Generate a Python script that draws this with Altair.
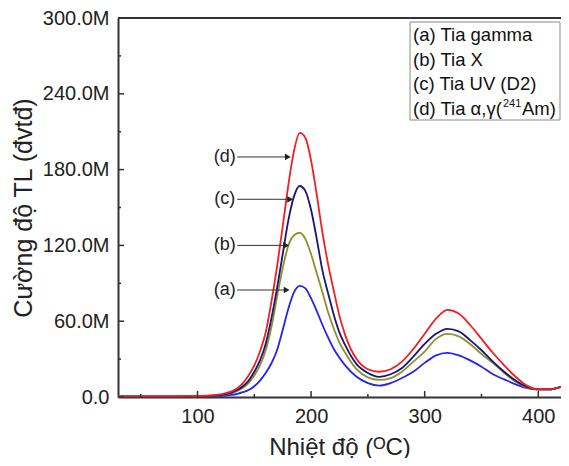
import altair as alt
import pandas as pd

# ---------------- data ----------------
temps = [30, 40, 50, 60, 70, 80, 90, 100, 110,
         120, 125, 130, 135, 140, 145, 150, 155, 160, 165, 170, 175, 180,
         185, 190, 195, 200, 205, 210, 215, 220, 225, 230,
         240, 250, 260, 270, 280, 290, 300, 310, 320, 330, 340, 350, 360,
         370, 380, 390, 400, 410, 420, 430]

# intensities in millions
series_a = [0.2, 0.2, 0.2, 0.2, 0.2, 0.2, 0.3, 0.4, 0.5,
            0.8, 1.1, 1.6, 2.5, 3.8, 5.5, 8.5, 13, 19, 26.5, 37, 53, 70,
            83, 88, 86, 78, 68, 57, 47, 38, 31, 25,
            16, 11, 9, 11, 15, 20, 27, 33, 35, 33, 29, 24, 18,
            14, 10, 7, 6, 6, 8, 11]
series_b = [0.3, 0.3, 0.3, 0.3, 0.3, 0.3, 0.4, 0.5, 0.8,
            1.3, 2, 3, 4.7, 7.3, 11, 17, 25, 37, 55, 79, 102, 120,
            128, 130, 125, 113, 98, 83, 67, 54, 43, 35,
            22, 15.5, 13.5, 15, 20, 28, 36, 46, 50, 48, 42, 34, 27,
            19, 12, 7.5, 6, 6, 8, 11]
series_c = [0.4, 0.4, 0.4, 0.4, 0.4, 0.4, 0.5, 0.6, 0.9,
            1.5, 2.3, 3.5, 5.5, 8.5, 13, 20, 29, 42, 62, 86, 113, 140,
            159, 167, 163, 148, 125, 100, 82, 65, 51, 41,
            26, 19, 16, 18, 23, 32, 42, 50, 54, 52, 45, 37, 28,
            20, 13, 8, 6, 6, 8, 11]
series_d = [0.5, 0.5, 0.5, 0.5, 0.5, 0.5, 0.6, 0.8, 1.2,
            2, 3, 4.5, 7, 11, 17, 25, 36, 51, 75, 103, 135, 168,
            195, 209, 205, 187, 160, 130, 105, 84, 64, 49,
            30, 22, 20, 22, 28, 38, 50, 62, 69, 66, 57, 46, 35,
            25, 16, 9, 6, 6, 8, 11]

series_names = ["a", "b", "c", "d"]
series_colors = ["#2424ee", "#8f8f2e", "#16167a", "#ee2020"]

legend_lines = ["(a) Tia gamma", "(b) Tia X", "(c) Tia UV (D2)"]
legend_last = ["(d) Tia \u03b1,\u03b3(", "241", "Am)"]

arrow_labels = ["(a)", "(b)", "(c)", "(d)"]
arrow_y = [84.7, 120, 156.5, 190]       # millions
arrow_start = [135, 135, 135, 135]
arrow_tip = [181, 180.5, 184, 182]
label_x = [124, 124, 124, 124]

x_major = [100, 200, 300, 400]
x_minor = [50, 150, 250, 350]
y_major = [0, 60, 120, 180, 240, 300]
y_minor = [30, 90, 150, 210, 270]

# ---------------- build tables ----------------
rows = []
for name, vals in zip(series_names, [series_a, series_b, series_c, series_d]):
    for t, v in zip(temps, vals):
        rows.append({"T": t, "I": v * 1e6, "s": name})
df = pd.DataFrame(rows)

arrows = pd.DataFrame({"label": arrow_labels,
                       "I": [v * 1e6 for v in arrow_y],
                       "T": arrow_start,
                       "T2": arrow_tip,
                       "Tl": label_x})
arrows["Th"] = arrows["T2"] - 2.5

W, H = 443, 379
FONT = "Liberation Sans"
x_scale = alt.Scale(domain=[30, 420], nice=False, zero=False)
y_scale = alt.Scale(domain=[0, 300e6], nice=False)

x_axis = alt.Axis(values=x_major, title="Nhiệt độ (ᴼC)", tickSize=0,
                  labelPadding=9, titlePadding=9, titleFontSize=24, grid=False)
y_axis = alt.Axis(values=[v * 1e6 for v in y_major],
                  title="Cường độ TL (đvtđ)", tickSize=0,
                  labelPadding=9, titlePadding=6, titleFontSize=25, grid=False,
                  labelExpr="datum.value == 0 ? '0.0' : format(datum.value / 1e6, '.1f') + 'M'")


def X(field):
    return alt.X(field, scale=x_scale, axis=x_axis)


def Y(field):
    return alt.Y(field, scale=y_scale, axis=y_axis)


lines = alt.Chart(df).mark_line(strokeWidth=1.8, clip=True, interpolate="monotone").encode(
    x=X("T:Q"), y=Y("I:Q"),
    color=alt.Color("s:N", scale=alt.Scale(domain=series_names, range=series_colors),
                    legend=None),
)

xt_major = alt.Chart(pd.DataFrame({"T": x_major})).mark_rule(color="#333", strokeWidth=1.5).encode(
    x=X("T:Q"), y=alt.value(H), y2=alt.value(H - 6))
xt_minor = alt.Chart(pd.DataFrame({"T": x_minor})).mark_rule(color="#333", strokeWidth=1.5).encode(
    x=X("T:Q"), y=alt.value(H), y2=alt.value(H - 3))
yt_major = alt.Chart(pd.DataFrame({"I": [v * 1e6 for v in y_major]})).mark_rule(color="#333", strokeWidth=1.5).encode(
    y=Y("I:Q"), x=alt.value(0), x2=alt.value(6))
yt_minor = alt.Chart(pd.DataFrame({"I": [v * 1e6 for v in y_minor]})).mark_rule(color="#333", strokeWidth=1.5).encode(
    y=Y("I:Q"), x=alt.value(0), x2=alt.value(3))

top_border = alt.Chart(pd.DataFrame({"k": [0]})).mark_rule(color="#333", strokeWidth=2).encode(
    x=alt.value(0), x2=alt.value(W), y=alt.value(0))

arrow_lines = alt.Chart(arrows).mark_rule(color="#333", strokeWidth=1).encode(
    x=X("T:Q"), x2="Th:Q", y=Y("I:Q"))
arrow_heads = alt.Chart(arrows).mark_point(shape="triangle-right", filled=True, size=45,
                                           color="#222", opacity=1).encode(
    x=X("Th:Q"), y=Y("I:Q"))
arrow_text = alt.Chart(arrows).mark_text(font=FONT, fontSize=18, color="#222",
                                         align="center", baseline="middle").encode(
    x=X("Tl:Q"), y=Y("I:Q"), text="label:N")

one = pd.DataFrame({"k": [0]})
legend_box = alt.Chart(one).mark_rect(
    fill="white", stroke="#888", strokeWidth=1).encode(
    x=alt.value(292), x2=alt.value(442), y=alt.value(4), y2=alt.value(102))
legend_text = alt.Chart(one).mark_text(
    text=legend_lines, align="left", baseline="alphabetic", lineHeight=24.5,
    fontSize=18.5, font=FONT, color="#111").encode(
    x=alt.value(295), y=alt.value(23))
legend_d1 = alt.Chart(one).mark_text(
    text=legend_last[0], align="left", baseline="alphabetic",
    fontSize=18.5, font=FONT, color="#111").encode(x=alt.value(295), y=alt.value(96.5))
legend_d2 = alt.Chart(one).mark_text(
    text=legend_last[1], align="left", baseline="alphabetic",
    fontSize=11, font=FONT, color="#111").encode(x=alt.value(385), y=alt.value(89))
legend_d3 = alt.Chart(one).mark_text(
    text=legend_last[2], align="left", baseline="alphabetic",
    fontSize=18.5, font=FONT, color="#111").encode(x=alt.value(404), y=alt.value(96.5))

chart = alt.layer(
    lines, xt_major, xt_minor, yt_major, yt_minor, top_border,
    arrow_lines, arrow_heads, arrow_text, legend_box, legend_text,
    legend_d1, legend_d2, legend_d3
).properties(
    width=W, height=H,
    autosize=alt.AutoSizeParams(type="none"),
    padding={"left": 110, "top": 10, "right": 0, "bottom": 61},
).configure_view(strokeWidth=0).configure_axis(
    domainColor="#333", domainWidth=2,
    labelFont=FONT, labelFontSize=20, labelColor="#222",
    titleFont=FONT, titleFontWeight="normal", titleColor="#222",
)

chart.save("out.html", embed_options={"renderer": "svg", "actions": False})
